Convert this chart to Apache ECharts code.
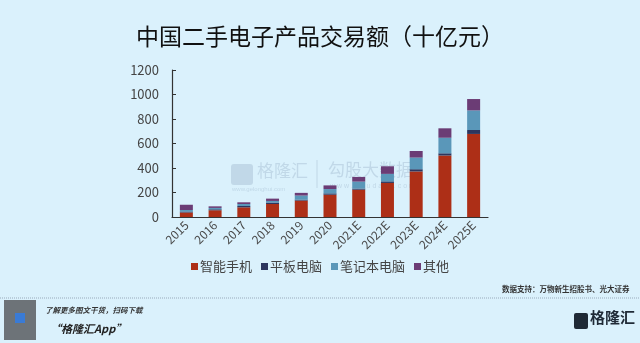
<!DOCTYPE html>
<html><head><meta charset="utf-8">
<script src="https://cdn.jsdelivr.net/npm/echarts@6/dist/echarts.min.js"></script>
<style>html,body{margin:0;padding:0;background:#daf1fc;}#c{width:640px;height:343px;}</style>
</head><body><div id="c"></div>
<script>
const categories = ['2015','2016','2017','2018','2019','2020','2021E','2022E','2023E','2024E','2025E'];
const smartphone = [37, 55, 79, 106, 134, 182, 223, 278, 372, 502, 678];
const tablet     = [8, 8, 11, 12, 8, 11, 9, 13, 18, 18, 32];
const laptop     = [12, 11, 16, 13, 33, 35, 57, 61, 95, 127, 160];
const other      = [43, 13, 14, 19, 22, 30, 38, 62, 54, 77, 93];
const yTicks = [0, 200, 400, 600, 800, 1000, 1200];
const seriesNames = ['智能手机','平板电脑','笔记本电脑','其他'];
const colors = ['#ad2f17','#2c365f','#5a97b9','#6b3c75'];

const chart = echarts.init(document.getElementById('c'));
const font = '"Noto Sans CJK SC", "Noto Sans", sans-serif';
const data = [smartphone, tablet, laptop, other];
const wm = 'rgba(140,165,190,0.32)';
chart.setOption({
  backgroundColor: '#daf1fc',
  textStyle: {fontFamily: font},
  title: {
    text: '中国二手电子产品交易额（十亿元）',
    left: 'center', top: 20,
    textStyle: {fontSize: 23, fontWeight: 'normal', color: '#111', fontFamily: font}
  },
  legend: {
    data: seriesNames, top: 255, left: 'center',
    itemWidth: 7, itemHeight: 7, itemGap: 9, icon: 'rect',
    textStyle: {fontSize: 13, color: '#444', padding: [0,0,0,-3]}
  },
  grid: {left: 172, right: 152, top: 70, bottom: 126, containLabel: false},
  xAxis: {
    type: 'category', data: categories,
    axisLine: {lineStyle: {color: '#333', width: 1.2}},
    axisTick: {inside: true, length: 4, lineStyle: {color: '#333'}},
    axisLabel: {rotate: 45, fontSize: 12, color: '#4a4a4a', margin: 6}
  },
  yAxis: {
    type: 'value', min: 0, max: 1200, interval: 200,
    axisLine: {show: true, lineStyle: {color: '#333', width: 1.2}},
    axisTick: {show: true, inside: true, length: 4, lineStyle: {color: '#333'}},
    splitLine: {show: false},
    axisLabel: {fontSize: 13, color: '#444', margin: 13,
      formatter: v => yTicks.indexOf(v) >= 0 ? String(v) : ''}
  },
  series: seriesNames.map((n, i) => ({
    name: n, type: 'bar', stack: 'total', barWidth: 13,
    itemStyle: {color: colors[i]}, data: data[i]
  })),
  graphic: [
    {type: 'rect', z: -1, shape: {x: 231, y: 164, width: 22, height: 21, r: 3}, style: {fill: wm}},
    {type: 'text', z: -1, left: 257, top: 162, style: {text: '格隆汇', font: '17px ' + font, fill: wm}},
    {type: 'text', z: -1, left: 232, top: 186, style: {text: 'www.gelonghui.com', font: '6px sans-serif', fill: wm}},
    {type: 'line', z: -1, shape: {x1: 317, y1: 160, x2: 317, y2: 188}, style: {stroke: wm, lineWidth: 1}},
    {type: 'text', z: -1, left: 328, top: 161, style: {text: '勾股大数据', font: '17px ' + font, fill: wm}},
    {type: 'text', z: -1, left: 330, top: 183, style: {text: 'w w w . g o u d a t a . c o m', font: '7px sans-serif', fill: wm}},
    {type: 'text', left: 502, top: 285, style: {text: '数据支持：万物新生招股书、光大证券', font: 'bold 7.5px ' + font, fill: '#333'}},
    {type: 'line', shape: {x1: 0, y1: 298, x2: 640, y2: 298}, style: {stroke: '#9ab', lineWidth: 1, lineDash: [1, 1]}},
    {type: 'rect', shape: {x: 4, y: 300, width: 32, height: 40}, style: {fill: '#6d7378'}},
    {type: 'rect', shape: {x: 15, y: 313, width: 10, height: 10}, style: {fill: '#3a7bd5'}},
    {type: 'text', left: 45, top: 306, style: {text: '了解更多图文干货，扫码下载', font: 'italic bold 7.5px ' + font, fill: '#333'}},
    {type: 'text', left: 50, top: 323, style: {text: '“格隆汇App”', font: 'italic bold 11px ' + font, fill: '#222'}},
    {type: 'rect', shape: {x: 574, y: 313, width: 14, height: 16, r: 2}, style: {fill: '#1f2a36'}},
    {type: 'text', left: 590, top: 310, style: {text: '格隆汇', font: 'bold 15px ' + font, fill: '#1f2a36'}}
  ]
});
</script></body></html>
